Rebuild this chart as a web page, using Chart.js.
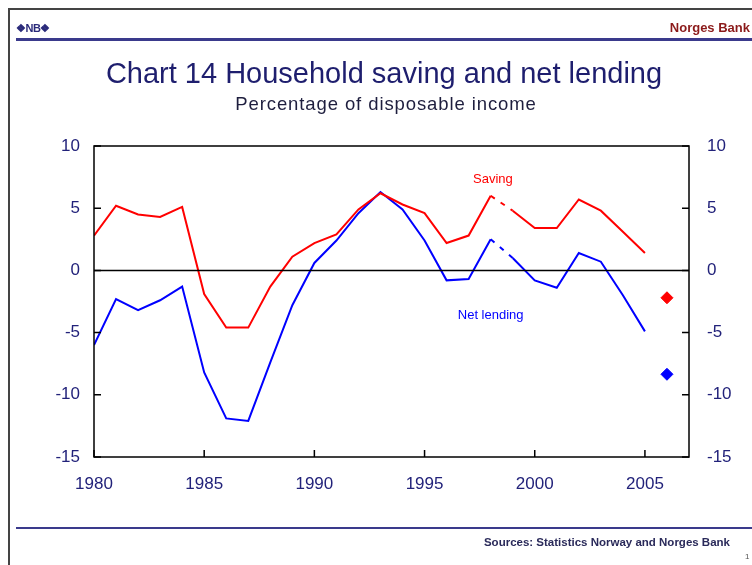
<!DOCTYPE html>
<html><head><meta charset="utf-8">
<script src="https://cdn.jsdelivr.net/npm/chart.js@4.4.1/dist/chart.umd.min.js"></script>
<style>
html,body{margin:0;padding:0;background:#fff;}
#wrap{position:relative;width:752px;height:565px;overflow:hidden;font-family:"Liberation Sans",Arial,sans-serif;}
canvas{position:absolute;left:0;top:0;}
.t{position:absolute;white-space:nowrap;}
</style></head><body>
<div id="wrap">
<canvas id="c" width="752" height="565"></canvas>
<div style="position:absolute;left:8px;top:8px;width:744px;height:1.5px;background:#444;"></div>
<div style="position:absolute;left:8px;top:8px;width:1.5px;height:557px;background:#444;"></div>
<div style="position:absolute;left:16px;top:38px;width:736px;height:2.5px;background:#3a3a8c;"></div>
<div style="position:absolute;left:16px;top:527px;width:736px;height:2px;background:#3a3a8c;"></div>
<div class="t" style="left:16px;top:22px;font-size:11px;font-weight:bold;color:#2a2a7a;letter-spacing:-0.5px;">&#x2756;NB&#x2756;</div>
<div class="t" style="right:2px;top:20px;font-size:13px;font-weight:bold;color:#8b1a1a;">Norges Bank</div>
<div class="t" style="left:0;width:768px;text-align:center;top:57px;font-size:29px;color:#1e1e6e;">Chart 14 Household saving and net lending</div>
<div class="t" style="left:0;width:772px;text-align:center;top:93px;font-size:18.5px;letter-spacing:0.9px;color:#1e1e3e;">Percentage of disposable income</div>
<div class="t" style="right:22px;top:536px;font-size:11.5px;font-weight:bold;color:#2a2a5a;">Sources: Statistics Norway and Norges Bank</div>
<div class="t" style="left:745px;top:552px;font-size:8px;color:#555;">1</div>
</div>
<script>
const years = [1980,1981,1982,1983,1984,1985,1986,1987,1988,1989,1990,1991,1992,1993,1994,1995,1996,1997,1998,1999,2000,2001,2002,2003,2004,2005];
const saving = [2.8,5.2,4.5,4.3,5.1,-1.9,-4.6,-4.6,-1.3,1.1,2.2,2.9,4.9,6.2,5.3,4.6,2.2,2.8,6.0,4.8,3.4,3.4,5.7,4.8,3.1,1.4];
const netLending = [-6.0,-2.3,-3.2,-2.4,-1.3,-8.2,-11.9,-12.1,-7.4,-2.8,0.6,2.4,4.6,6.3,4.9,2.4,-0.8,-0.7,2.5,1.0,-0.8,-1.4,1.4,0.7,-2.0,-4.9];
const forecastYear = [2006];
const savingForecast = [-2.2];
const netLendingForecast = [-8.35];
const xTicks = [1980,1985,1990,1995,2000,2005];
const yTicks = [-15,-10,-5,0,5,10];
const tickColor = '#22227a';
const fontFam = '"Liberation Sans", Arial, sans-serif';

const pts = (xs, ys) => xs.map((x,i)=>({x:x,y:ys[i]}));
const dashSeg = {borderDash: ctx => (ctx.p0DataIndex === 18 ? [5,7] : undefined)};

const decor = {
  id:'decor',
  afterDraw(chart){
    const {ctx, chartArea:a, scales:{x,y}} = chart;
    ctx.save();
    ctx.strokeStyle='#000'; ctx.lineWidth=1.5;
    ctx.strokeRect(a.left, a.top, a.right-a.left, a.bottom-a.top);
    const y0 = y.getPixelForValue(0);
    ctx.beginPath(); ctx.moveTo(a.left,y0); ctx.lineTo(a.right,y0); ctx.stroke();
    ctx.beginPath();
    yTicks.forEach(v=>{const p=y.getPixelForValue(v);
      ctx.moveTo(a.left,p); ctx.lineTo(a.left+7,p);
      ctx.moveTo(a.right,p); ctx.lineTo(a.right-7,p);});
    xTicks.forEach(v=>{const p=x.getPixelForValue(v);
      ctx.moveTo(p,a.bottom); ctx.lineTo(p,a.bottom-7);});
    ctx.stroke();
    ctx.font='13px '+fontFam;
    ctx.textAlign='center'; ctx.textBaseline='middle';
    ctx.fillStyle='#ff0000';
    ctx.fillText('Saving', x.getPixelForValue(1998.1), y.getPixelForValue(7.3));
    ctx.fillStyle='#0000ff';
    ctx.fillText('Net lending', x.getPixelForValue(1998.0), y.getPixelForValue(-3.6));
    ctx.restore();
  }
};

new Chart(document.getElementById('c'), {
  type:'line',
  data:{datasets:[
    {label:'Saving', data:pts(years,saving), borderColor:'#ff0000', borderWidth:2, pointRadius:0, tension:0, segment:dashSeg},
    {label:'Net lending', data:pts(years,netLending), borderColor:'#0000ff', borderWidth:2, pointRadius:0, tension:0, segment:dashSeg},
    {label:'Saving forecast', data:pts(forecastYear,savingForecast), showLine:false, pointStyle:'rectRot', pointRadius:6, backgroundColor:'#ff0000', borderColor:'#ff0000'},
    {label:'Net lending forecast', data:pts(forecastYear,netLendingForecast), showLine:false, pointStyle:'rectRot', pointRadius:6, backgroundColor:'#0000ff', borderColor:'#0000ff'}
  ]},
  options:{
    responsive:false, animation:false,
    layout:{padding:{top:146,left:0,right:0,bottom:0}},
    plugins:{legend:{display:false}, tooltip:{enabled:false}},
    scales:{
      x:{type:'linear', min:1980, max:2007,
        afterFit(s){s.height=108;},
        grid:{display:false, drawTicks:false}, border:{display:false},
        afterBuildTicks(s){s.ticks = xTicks.map(v=>({value:v}));},
        ticks:{padding:17, color:tickColor, font:{size:17,family:fontFam}, callback:v=>String(v), maxRotation:0, autoSkip:false}},
      y:{position:'left', min:-15, max:10,
        afterFit(s){s.width=94;},
        grid:{display:false, drawTicks:false}, border:{display:false},
        afterBuildTicks(s){s.ticks = yTicks.map(v=>({value:v}));},
        ticks:{padding:14, color:tickColor, font:{size:17,family:fontFam}}},
      y2:{position:'right', min:-15, max:10,
        afterFit(s){s.width=63;},
        grid:{display:false, drawTicks:false}, border:{display:false},
        afterBuildTicks(s){s.ticks = yTicks.map(v=>({value:v}));},
        ticks:{padding:18, color:tickColor, font:{size:17,family:fontFam}}}
    }
  },
  plugins:[decor]
});
</script>
</body></html>
